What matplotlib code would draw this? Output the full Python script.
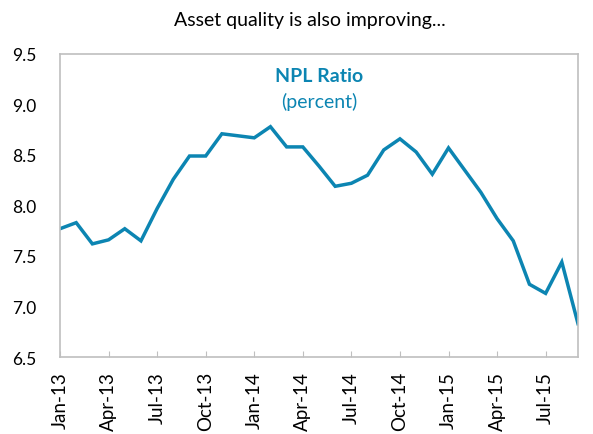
import matplotlib
matplotlib.use("Agg")
import matplotlib.pyplot as plt

months = ["Jan-13","Feb-13","Mar-13","Apr-13","May-13","Jun-13","Jul-13","Aug-13","Sep-13","Oct-13","Nov-13","Dec-13",
          "Jan-14","Feb-14","Mar-14","Apr-14","May-14","Jun-14","Jul-14","Aug-14","Sep-14","Oct-14","Nov-14","Dec-14",
          "Jan-15","Feb-15","Mar-15","Apr-15","May-15","Jun-15","Jul-15","Aug-15","Sep-15"]
npl_ratio = [7.77, 7.83, 7.62, 7.66, 7.77, 7.65, 7.97, 8.26, 8.49, 8.49, 8.71, 8.69,
             8.67, 8.78, 8.58, 8.58, 8.39, 8.19, 8.22, 8.30, 8.55, 8.66, 8.53, 8.31,
             8.57, 8.35, 8.13, 7.87, 7.65, 7.22, 7.13, 7.44, 6.83]
yticks = [6.5, 7.0, 7.5, 8.0, 8.5, 9.0, 9.5]

blue = "#0C85B2"
grey = "#BFBFBF"
plt.rcParams['font.family'] = ['Lato', 'DejaVu Sans']

fig = plt.figure(figsize=(5.93, 4.35), dpi=100)
ax = fig.add_axes([0.1012, 0.177, 0.8735, 0.6966])
x = list(range(len(months)))
ax.plot(x, npl_ratio, color=blue, lw=2.5, solid_joinstyle='miter')
ax.set_xlim(0, len(months) - 1)
ax.set_ylim(6.5, 9.5)
ax.set_yticks(yticks)
ax.set_yticklabels([f"{v:.1f}" for v in yticks], fontsize=12.5)
ax.tick_params(axis='y', length=0, pad=17)
tick_pos = list(range(0, len(months), 3))
ax.set_xticks(tick_pos)
ax.set_xticklabels([months[i] for i in tick_pos], rotation=90, fontsize=13.5)
ax.tick_params(axis='x', direction='in', length=4, color=grey, pad=10)
for s in ax.spines.values():
    s.set_color(grey)
    s.set_linewidth(1.2)

fig.text(0.523, 0.953, "Asset quality is also improving...", ha='center', va='center', fontsize=14)
ax.text(0.5, 0.93, "NPL Ratio", transform=ax.transAxes, ha='center', va='center',
        fontsize=14, fontweight='bold', color=blue)
ax.text(0.5, 0.845, "(percent)", transform=ax.transAxes, ha='center', va='center',
        fontsize=14, color=blue)

fig.savefig("out.png", dpi=100)
